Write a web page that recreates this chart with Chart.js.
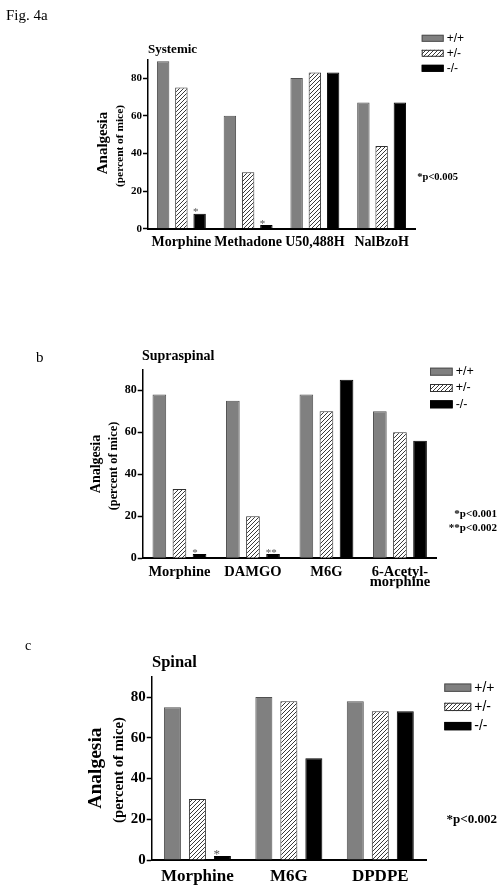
<!DOCTYPE html>
<html><head><meta charset="utf-8">
<script src="https://cdn.jsdelivr.net/npm/chart.js@4.4.1/dist/chart.umd.min.js"></script>
<style>
html,body{margin:0;padding:0;background:#fff;}
body{width:503px;height:892px;position:relative;overflow:hidden;font-family:"Liberation Serif","Times New Roman",serif;}
canvas{position:absolute;left:0;}
.t{position:absolute;white-space:nowrap;line-height:1;color:#000;}
.l{transform:translateY(-50%);}
.r{transform:translate(-100%,-50%);text-align:right;}
.v{transform:translate(-50%,-50%) rotate(-90deg);font-weight:bold;}
.b{font-weight:bold;}
</style></head><body>
<canvas id="ca" width="503" height="260" style="top:0px"></canvas>
<canvas id="cb" width="503" height="295" style="top:300px"></canvas>
<canvas id="cc" width="503" height="272" style="top:620px"></canvas>

<div class="t l" style="left:6px;top:15px;font-size:15px;">Fig. 4a</div>
<div class="t l b" style="left:148px;top:48px;font-size:13px;">Systemic</div>
<div class="t v" style="left:102px;top:143px;font-size:15px;">Analgesia</div>
<div class="t v" style="left:120px;top:146px;font-size:11.4px;">(percent of mice)</div>
<div class="t r b" style="left:458px;top:177px;font-size:10.5px;">*p&lt;0.005</div>

<div class="t l" style="left:36px;top:357px;font-size:15px;">b</div>
<div class="t l b" style="left:142px;top:356px;font-size:14px;">Supraspinal</div>
<div class="t v" style="left:96px;top:464px;font-size:14px;">Analgesia</div>
<div class="t v" style="left:112.5px;top:465.5px;font-size:12.3px;">(percent of mice)</div>
<div class="t r b" style="left:497px;top:513px;font-size:11px;">*p&lt;0.001</div>
<div class="t r b" style="left:497px;top:527px;font-size:11px;">**p&lt;0.002</div>

<div class="t l" style="left:25px;top:646px;font-size:14px;">c</div>
<div class="t l b" style="left:152px;top:662px;font-size:16.5px;">Spinal</div>
<div class="t v" style="left:94.5px;top:767.5px;font-size:19.5px;">Analgesia</div>
<div class="t v" style="left:117.5px;top:770px;font-size:14.7px;">(percent of mice)</div>
<div class="t r b" style="left:497px;top:818px;font-size:13px;">*p&lt;0.002</div>

<script>
// ---- data ----
const seriesLabels = ['+/+', '+/-', '-/-'];
const yTicks = [0, 20, 40, 60, 80];
const yMax = 90;

const catsA = ['Morphine', 'Methadone', 'U50,488H', 'NalBzoH'];
const wtA  = [89, 60, 80, 67];
const hetA = [75, 30, 83, 44];
const koA  = [8, 2, 83, 67];
const starsA = ['*', '*', '', ''];

const catsB = ['Morphine', 'DAMGO', 'M6G', ['6-Acetyl-', 'morphine']];
const wtB  = [78, 75, 78, 70];
const hetB = [33, 20, 70, 60];
const koB  = [2, 2, 85, 56];
const starsB = ['*', '**', '', ''];

const catsC = ['Morphine', 'M6G', 'DPDPE'];
const wtC  = [75, 80, 78];
const hetC = [30, 78, 73];
const koC  = [2, 50, 73];
const starsC = ['*', '', ''];

// ---- helpers ----
const SERIF = '"Liberation Serif", "Times New Roman", serif';
const SANS = '"Liberation Sans", Arial, sans-serif';

function hatchPattern(ctx) {
  const c = document.createElement('canvas');
  c.width = 4; c.height = 4;
  const x = c.getContext('2d');
  x.fillStyle = '#fff'; x.fillRect(0, 0, 4, 4);
  x.strokeStyle = '#3a3a3a'; x.lineWidth = 1;
  x.beginPath();
  x.moveTo(0, 4); x.lineTo(4, 0);
  x.moveTo(-1, 1); x.lineTo(1, -1);
  x.moveTo(3, 5); x.lineTo(5, 3);
  x.stroke();
  return ctx.createPattern(c, 'repeat');
}

function makeChart(id, cats, wt, het, ko, stars, s) {
  const canvas = document.getElementById(id);
  const ctx = canvas.getContext('2d');
  const pat = hatchPattern(ctx);
  const legendPlugin = {
    id: 'boxLegend' + id,
    afterDraw(chart) {
      const c = chart.ctx; c.save();
      chart.data.datasets.forEach((ds, i) => {
        const cy = s.leg.y + i * s.leg.gap;
        c.fillStyle = ds.backgroundColor;
        c.fillRect(s.leg.x, cy - s.leg.h / 2, s.leg.w, s.leg.h);
        c.lineWidth = 1; c.strokeStyle = ds.borderColor;
        c.strokeRect(s.leg.x + 0.5, cy - s.leg.h / 2 + 0.5, s.leg.w - 1, s.leg.h - 1);
        c.fillStyle = '#000';
        c.font = s.leg.size + 'px ' + SANS;
        c.textBaseline = 'middle'; c.textAlign = 'left';
        c.fillText(ds.label, s.leg.x + s.leg.w + 3, cy);
      });
      c.restore();
    }
  };
  const starPlugin = {
    id: 'stars' + id,
    afterDatasetsDraw(chart) {
      const c = chart.ctx; c.save();
      const meta = chart.getDatasetMeta(2);
      c.fillStyle = '#555';
      c.font = s.starSize + 'px ' + SERIF;
      c.textAlign = 'left'; c.textBaseline = 'alphabetic';
      stars.forEach((st, i) => {
        if (!st) return;
        const el = meta.data[i];
        c.fillText(st, el.x - el.width / 2 - 0.5, el.y + s.starSize * 0.15);
      });
      c.restore();
    }
  };
  return new Chart(ctx, {
    type: 'bar',
    data: {
      labels: cats,
      datasets: [
        { label: seriesLabels[0], data: wt, backgroundColor: '#808080', borderColor: '#505050', borderWidth: 1 },
        { label: seriesLabels[1], data: het, backgroundColor: pat, borderColor: '#303030', borderWidth: 1 },
        { label: seriesLabels[2], data: ko, backgroundColor: '#000', borderColor: '#000', borderWidth: 1 }
      ]
    },
    options: {
      responsive: false,
      animation: false,
      devicePixelRatio: 1,
      layout: { padding: s.pad },
      datasets: { bar: { categoryPercentage: 0.82, barPercentage: 0.68 } },
      plugins: { legend: { display: false }, tooltip: { enabled: false } },
      scales: {
        x: {
          grid: { display: false, drawTicks: false, tickLength: 0 },
          border: { display: true, color: '#000', width: 2 },
          ticks: {
            color: '#000', autoSkip: false, maxRotation: 0, padding: s.xPad,
            font: { family: SERIF, weight: 'bold', size: s.xSize, lineHeight: s.xLh }
          },
          afterFit(sc) { sc.height = s.xH; }
        },
        y: {
          min: 0, max: yMax,
          grid: { display: true, drawOnChartArea: false, drawTicks: true, tickLength: 5, color: '#000', tickWidth: 1.5 },
          border: { display: true, color: '#000', width: 1.5 },
          ticks: {
            color: '#000', padding: 1,
            font: { family: SERIF, weight: 'bold', size: s.ySize }
          },
          afterBuildTicks(sc) { sc.ticks = yTicks.map(v => ({ value: v })); },
          afterFit(sc) { sc.width = 30; }
        }
      }
    },
    plugins: [legendPlugin, starPlugin]
  });
}

makeChart('ca', catsA, wtA, hetA, koA, starsA, {
  pad: { left: 118, right: 88, top: 59.3, bottom: 6.3 },
  xH: 25, xPad: 5, xSize: 14, xLh: 1.2, ySize: 11, starSize: 11,
  leg: { x: 421.7, y: 38.3, gap: 15, w: 22, h: 7, size: 12 }
});
makeChart('cb', catsB, wtB, hetB, koB, starsB, {
  pad: { left: 112.7, right: 66.3, top: 69.3, bottom: 6.7 },
  xH: 30, xPad: 8.5, xSize: 14.5, xLh: 0.69, ySize: 12, starSize: 11,
  leg: { x: 430, y: 71.7, gap: 16.3, w: 22.7, h: 8, size: 12.5 }
});
makeChart('cc', catsC, wtC, hetC, koC, starsC, {
  pad: { left: 121.7, right: 77, top: 56.7, bottom: 4 },
  xH: 28, xPad: 6.5, xSize: 17, xLh: 1.2, ySize: 15, starSize: 13,
  leg: { x: 444.3, y: 67.7, gap: 19.2, w: 27, h: 8.3, size: 14 }
});
</script>
</body></html>
